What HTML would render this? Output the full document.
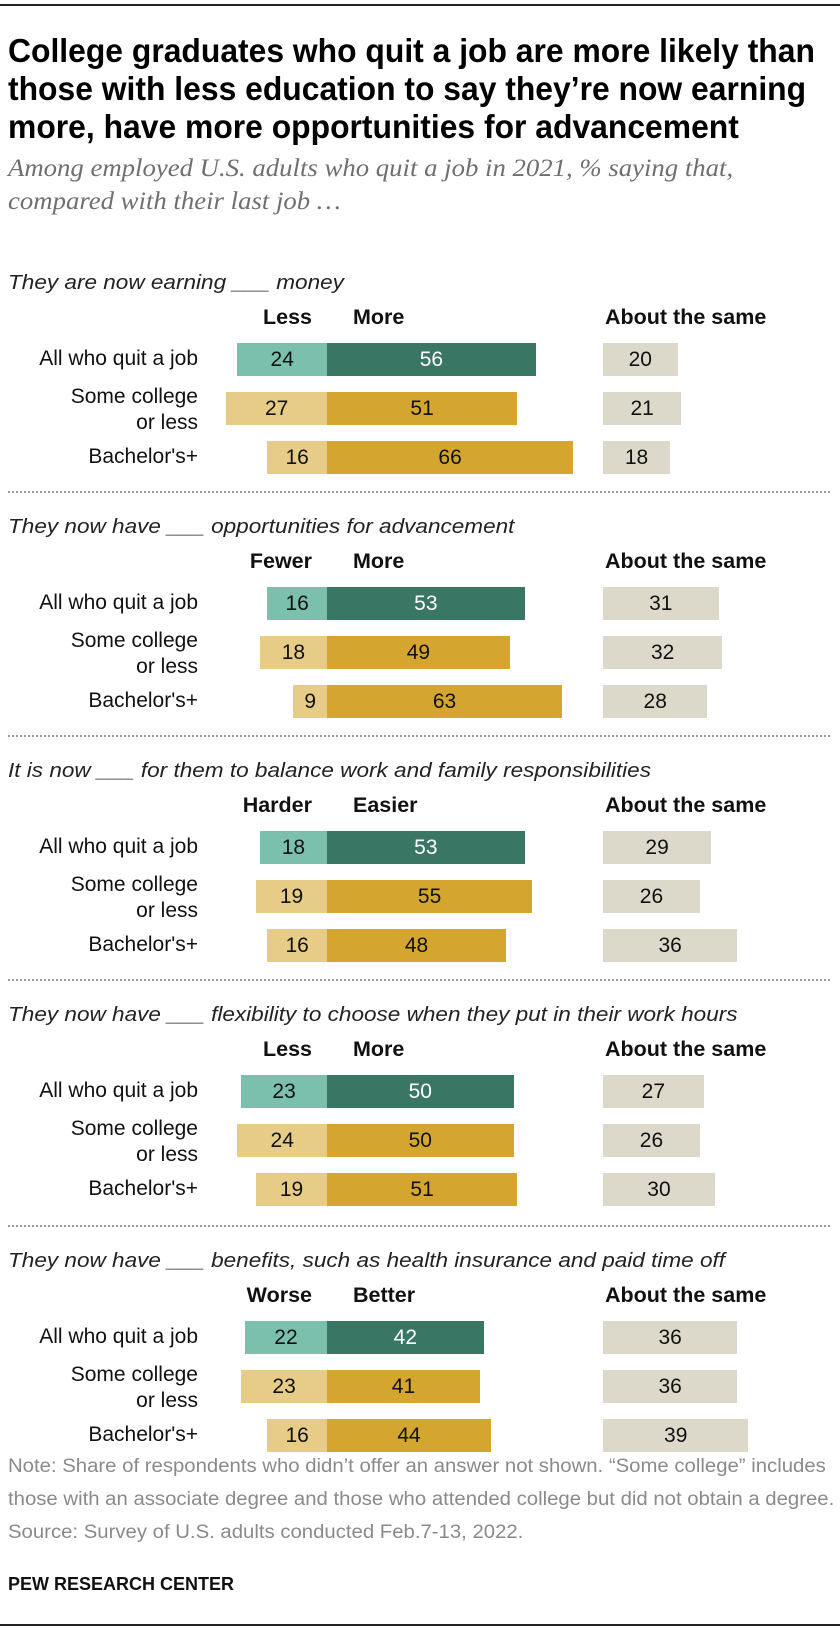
<!DOCTYPE html>
<html><head><meta charset="utf-8">
<style>
body{margin:0;background:#fff;}
#root{position:relative;width:840px;height:1628px;overflow:hidden;font-family:"Liberation Sans",sans-serif;}
.abs{position:absolute;white-space:nowrap;}
.title{left:8px;font-weight:bold;font-size:33px;color:#000;line-height:38px;transform:scaleX(0.965);transform-origin:0 0;}
.sub{left:8px;font-family:"Liberation Serif",serif;font-style:italic;font-size:25px;color:#6f6f6f;line-height:33px;transform:scaleX(1.07);transform-origin:0 0;}
.sect{left:8px;font-style:italic;font-size:20.5px;color:#222;transform:scaleX(1.1);transform-origin:0 0;}
.hdr{font-weight:bold;font-size:21.5px;color:#111;}
.lab{font-size:21px;color:#111;text-align:right;line-height:26px;}
.bar{height:33px;}
.val{font-size:21px;text-align:center;line-height:33px;}
.div{left:8px;width:822px;height:0;border-top:2px dotted #999;}
.note{left:8px;font-size:19px;color:#8a8a8a;line-height:33px;transform:scaleX(1.07);transform-origin:0 0;}
</style></head>
<body>
<div id="root">
<div class="abs" style="left:0;top:4px;width:840px;height:2px;background:#222"></div>
<div class="abs title" style="top:32px">College graduates who quit a job are more likely than<br>those with less education to say they’re now earning<br>more, have more opportunities for advancement</div>
<div class="abs sub" style="top:152px">Among employed U.S. adults who quit a job in 2021, % saying that,<br>compared with their last job …</div>
<div class="abs note" style="top:1450px">Note: Share of respondents who didn’t offer an answer not shown. “Some college” includes<br>those with an associate degree and those who attended college but did not obtain a degree.<br>Source: Survey of U.S. adults conducted Feb.7-13, 2022.</div>
<div class="abs" style="left:8px;top:1574px;font-weight:bold;font-size:18px;color:#111">PEW RESEARCH CENTER</div>
<div class="abs" style="left:0;top:1624px;width:840px;height:2px;background:#222"></div>
</div>
<script>
const sectionTitles=["They are now earning ___ money","They now have ___ opportunities for advancement","It is now ___ for them to balance work and family responsibilities","They now have ___ flexibility to choose when they put in their work hours","They now have ___ benefits, such as health insurance and paid time off"];
const leftHeaders=["Less","Fewer","Harder","Less","Worse"];
const rightHeaders=["More","More","Easier","More","Better"];
const groups=["All who quit a job","Some college\nor less","Bachelor's+"];
const negValues=[[24,27,16],[16,18,9],[18,19,16],[23,24,19],[22,23,16]];
const posValues=[[56,51,66],[53,49,63],[53,55,48],[50,50,51],[42,41,44]];
const sameValues=[[20,21,18],[31,32,28],[29,26,36],[27,26,30],[36,36,39]];

const root=document.getElementById('root');
const base=327, sameX=603, unit=3.73;
const xNeg=v=>base-v*unit;
const wScale=v=>v*unit;
const sectTop=[271,515,759,1003,1249];
const rowOff=[88,137,186];
function mk(cls,styles,text){const d=document.createElement('div');d.className='abs '+cls;Object.assign(d.style,styles);if(text!==undefined)d.textContent=text;root.appendChild(d);return d;}
sectionTitles.forEach((t,s)=>{
  const top=sectTop[s];
  const st=mk('sect',{top:top+'px'},t);
  
  
  const lh=mk('hdr',{top:(top+34)+'px',right:(840-312)+'px'},leftHeaders[s]);
  
  
  const rh=mk('hdr',{top:(top+34)+'px',left:'353px'},rightHeaders[s]);
  
  
  const sh=mk('hdr',{top:(top+34)+'px',left:'605px'},'About the same');
  
  
  groups.forEach((g,r)=>{
    const cy=top+rowOff[r];
    const lines=g.split('\n');
    const lab=mk('lab',{right:(840-198)+'px',top:(cy-lines.length*13)+(lines.length>1?2:0)+'px'});
    lab.innerHTML=lines.join('<br>');
    
    
    const tealRow=r===0;
    const nv=negValues[s][r],pv=posValues[s][r],sv=sameValues[s][r];
    const nb=mk('bar val',{left:xNeg(nv)+'px',width:wScale(nv)+'px',top:(cy-16.5)+'px',background:tealRow?'#7bc0ac':'#e6cc86',color:'#111'},String(nv));
    
    
    const pb=mk('bar val',{left:base+'px',width:wScale(pv)+'px',top:(cy-16.5)+'px',background:tealRow?'#3a7664':'#d4a62f',color:tealRow?'#fff':'#111'},String(pv));
    
    
    const sb=mk('bar val',{left:sameX+'px',width:wScale(sv)+'px',top:(cy-16.5)+'px',background:'#dcd9cb',color:'#111'},String(sv));
    
    
  });
  if(s<4){
    const dv=mk('div',{top:(sectTop[s+1]-24)+'px'});
    
    
  }
});
</script>
</body></html>
